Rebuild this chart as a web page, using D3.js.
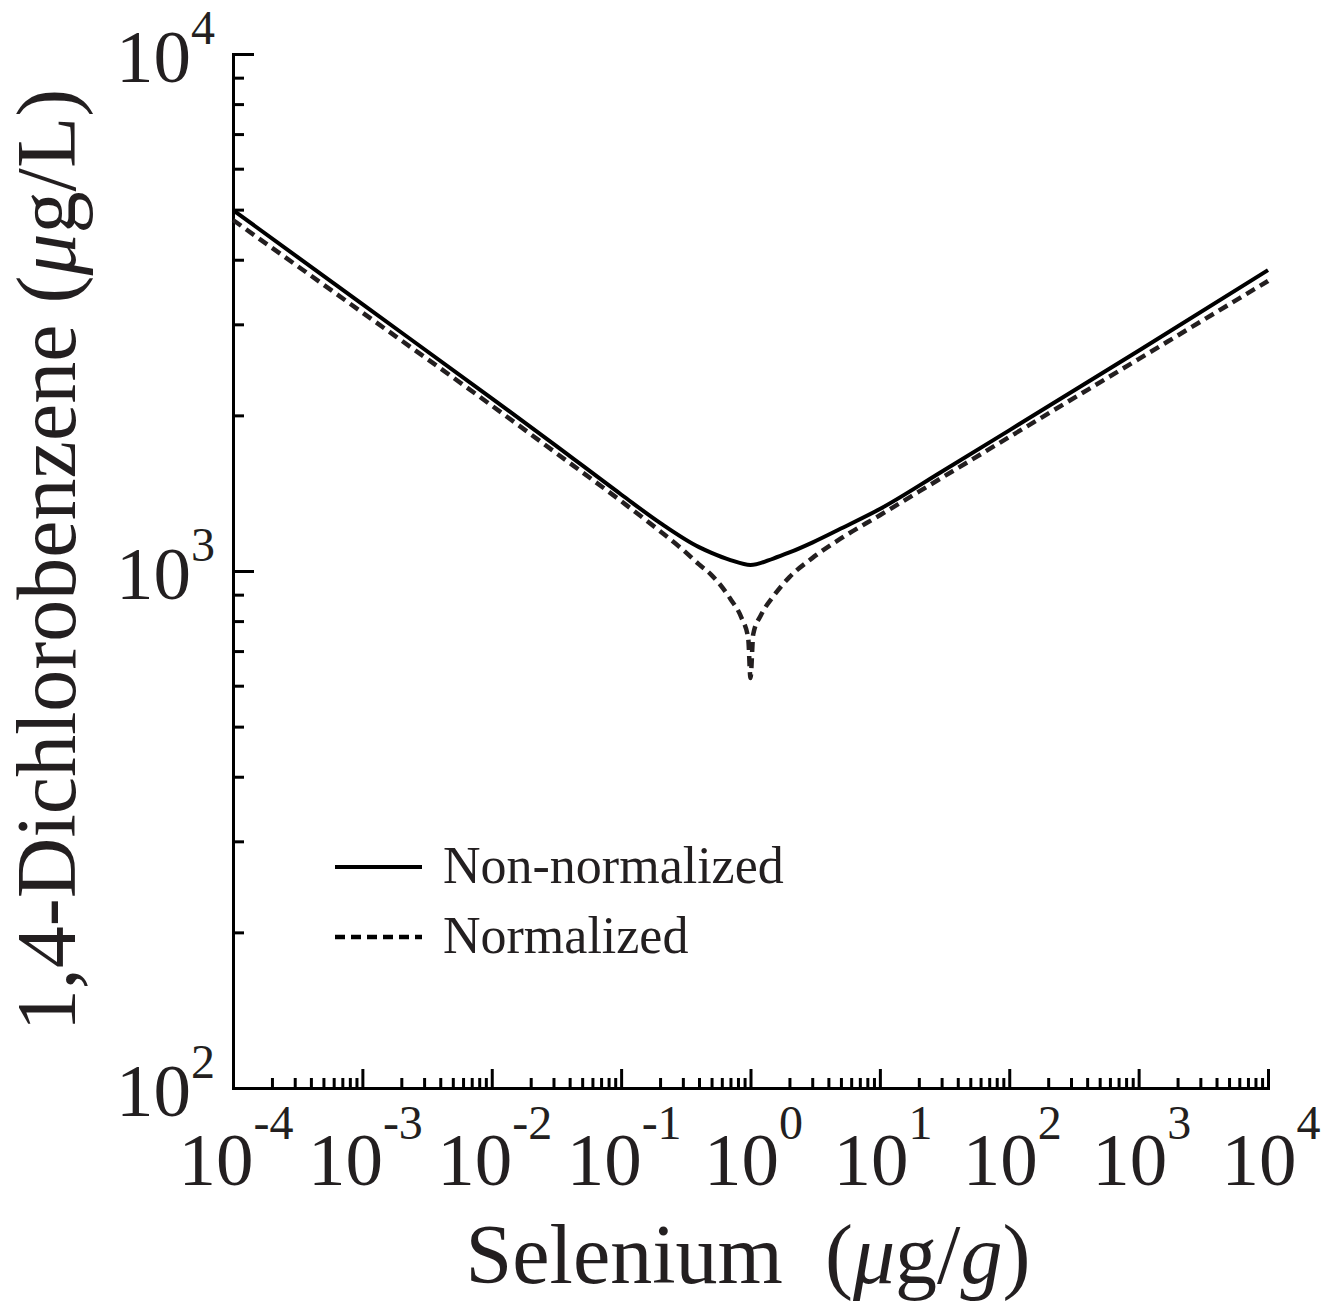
<!DOCTYPE html>
<html>
<head>
<meta charset="utf-8">
<script src="https://cdn.jsdelivr.net/npm/d3@7"></script>
<style>
  html, body { margin: 0; padding: 0; background: #fff; }
  svg { display: block; }
  text { font-family: "Liberation Serif", "Times New Roman", serif; fill: #231f20; }
</style>
</head>
<body>
<svg id="chart" width="1322" height="1302"></svg>
<script>
// ---- data ----
const seriesNames = ["Non-normalized", "Normalized"];
const xSolid = [1e-4, 1e-3, 1e-2, 0.03, 0.1, 0.2, 0.4, 0.5, 0.7, 1, 1.5, 2, 3, 5, 10, 30, 100, 1000, 1e4];
const ySolid = [4990, 3281, 2158, 1762, 1406, 1239, 1112, 1084, 1050, 1027, 1057, 1086, 1135, 1208, 1318, 1556, 1871, 2667, 3819];
const xDash = [1e-4, 1e-3, 1e-2, 0.03, 0.1, 0.2, 0.3, 0.4, 0.5, 0.7, 0.85, 0.96, 1, 1.05, 1.2, 1.5, 2, 3, 5, 10, 30, 100, 1000, 1e4];
const yDash = [4775, 3162, 2089, 1706, 1365, 1194, 1099, 1030, 982, 883, 813, 741, 621, 755, 820, 893, 973, 1059, 1156, 1282, 1514, 1816, 2570, 3639];
const xTickValues = [1e-4, 1e-3, 1e-2, 1e-1, 1, 10, 100, 1000, 1e4];
const xTickExponents = ["-4", "-3", "-2", "-1", "0", "1", "2", "3", "4"];
const yTickValues = [100, 1000, 10000];
const yTickExponents = ["2", "3", "4"];
const xAxisTitle = "Selenium";
const yAxisTitle = "1,4-Dichlorobenzene";

(function () {
// ---- layout ----
const svg = d3.select("#chart");
const pLeft = 233, pRight = 1268, pTop = 54, pBottom = 1088;
const x = d3.scaleLog().domain([1e-4, 1e4]).range([pLeft, pRight]);
const y = d3.scaleLog().domain([100, 10000]).range([pBottom, pTop]);

function minorTicks(domain) {
  const out = [];
  const lo = Math.round(Math.log10(domain[0])), hi = Math.round(Math.log10(domain[1]));
  for (let e = lo; e < hi; e++) for (let m = 2; m <= 9; m++) out.push(m * Math.pow(10, e));
  return out;
}

const axisStroke = 3;
const gx = svg.append("g").attr("transform", `translate(0,${pBottom})`);
gx.call(d3.axisBottom(x).tickValues(minorTicks(x.domain())).tickSizeInner(-10).tickSizeOuter(0).tickFormat(""));
gx.append("g").call(d3.axisBottom(x).tickValues(xTickValues).tickSizeInner(-19).tickSizeOuter(0).tickFormat(""));
const gy = svg.append("g").attr("transform", `translate(${pLeft},0)`);
gy.call(d3.axisLeft(y).tickValues(minorTicks(y.domain())).tickSizeInner(-11).tickSizeOuter(0).tickFormat(""));
gy.append("g").call(d3.axisLeft(y).tickValues(yTickValues).tickSizeInner(-21).tickSizeOuter(0).tickFormat(""));

svg.selectAll(".tick line").attr("stroke", "#000").attr("stroke-width", axisStroke);
svg.selectAll(".domain").attr("stroke", "#000").attr("stroke-width", axisStroke).attr("stroke-linecap", "square");

const tickFont = 75, supFont = 48;
xTickValues.forEach((v, i) => {
  const t = svg.append("text")
    .attr("x", x(v) + 3)
    .attr("y", pBottom + 97)
    .attr("text-anchor", "middle")
    .style("font-size", tickFont + "px");
  t.append("tspan").text("10");
  t.append("tspan").attr("dy", -46).style("font-size", supFont + "px").text(xTickExponents[i]);
});
yTickValues.forEach((v, i) => {
  const t = svg.append("text")
    .attr("x", pLeft - 18)
    .attr("y", y(v) + 28)
    .attr("text-anchor", "end")
    .style("font-size", tickFont + "px");
  t.append("tspan").text("10");
  t.append("tspan").attr("dy", -38).style("font-size", supFont + "px").text(yTickExponents[i]);
});

const xt = svg.append("text")
  .attr("x", 748).attr("y", 1283)
  .attr("text-anchor", "middle")
  .style("font-size", "84px");
xt.append("tspan").text(xAxisTitle + "\u00a0\u00a0(");
xt.append("tspan").style("font-style", "italic").text("\u03bc");
xt.append("tspan").text("g/");
xt.append("tspan").style("font-style", "italic").text("g");
xt.append("tspan").text(")");

const yt = svg.append("text")
  .attr("transform", "translate(75,560) rotate(-90)")
  .attr("text-anchor", "middle")
  .style("font-size", "84px");
yt.append("tspan").text(yAxisTitle + " (");
yt.append("tspan").style("font-style", "italic").text("\u03bc");
yt.append("tspan").text("g/L)");

const line = d3.line().x(d => x(d[0])).y(d => y(d[1])).curve(d3.curveMonotoneX);
const solidData = xSolid.map((v, i) => [v, ySolid[i]]);
const dashData = xDash.map((v, i) => [v, yDash[i]]);

svg.append("path").datum(dashData)
  .attr("d", line).attr("fill", "none")
  .attr("stroke", "#231f20").attr("stroke-width", 4.5)
  .attr("stroke-dasharray", "10,6");
svg.append("path").datum(solidData)
  .attr("d", line).attr("fill", "none")
  .attr("stroke", "#000").attr("stroke-width", 4);

const legend = svg.append("g");
const legendRows = [
  { name: seriesNames[0], y: 867, dash: null, w: 4 },
  { name: seriesNames[1], y: 937, dash: "10,6", w: 4.5 }
];
legendRows.forEach(r => {
  legend.append("line")
    .attr("x1", 335).attr("x2", 422).attr("y1", r.y).attr("y2", r.y)
    .attr("stroke", "#000").attr("stroke-width", r.w)
    .attr("stroke-dasharray", r.dash);
  legend.append("text")
    .attr("x", 443).attr("y", r.y + 16)
    .style("font-size", "52px")
    .text(r.name);
});
})();
</script>
</body>
</html>
